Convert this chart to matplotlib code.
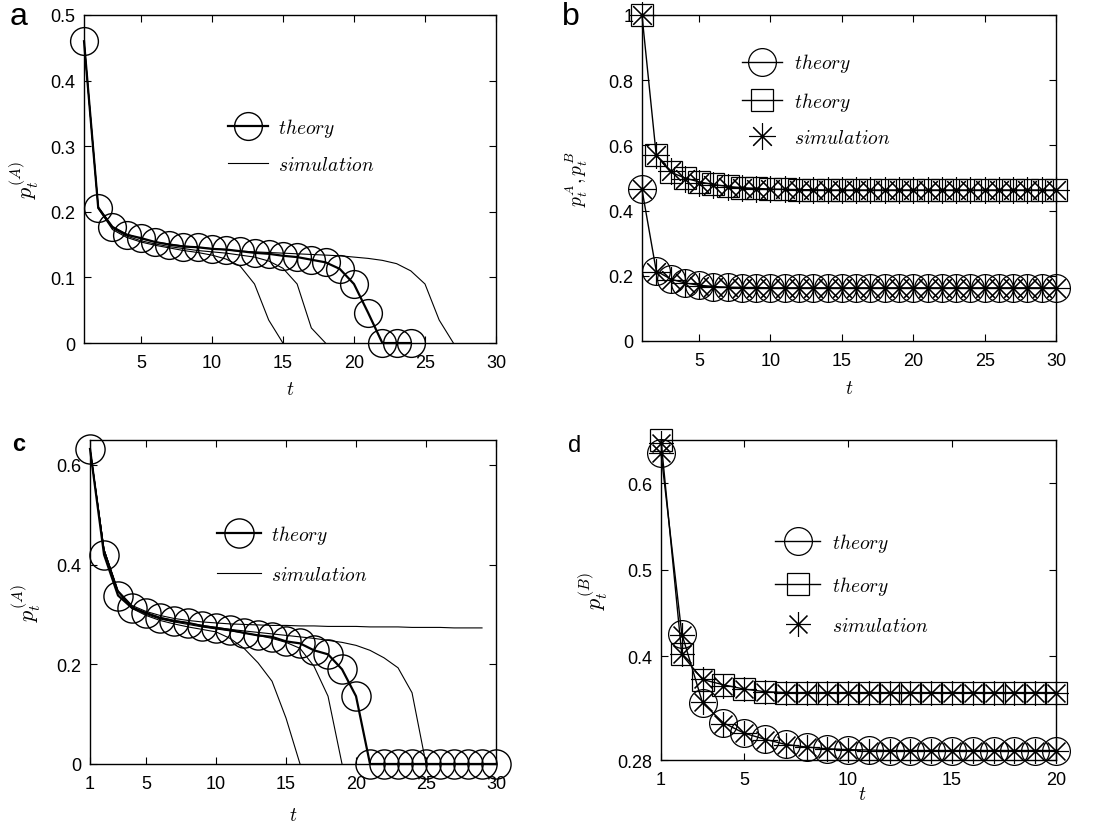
import numpy as np
import matplotlib
matplotlib.use("Agg")
import matplotlib.pyplot as plt

plt.rcParams['font.family'] = ['Liberation Sans', 'DejaVu Sans']
plt.rcParams['mathtext.fontset'] = 'cm'

# ---------------- data ----------------
# panel a
t_a_theory = list(range(1, 25))
a_theory = [0.46, 0.206, 0.177, 0.165, 0.160, 0.154, 0.150, 0.147, 0.146, 0.1435,
            0.1425, 0.140, 0.1375, 0.136, 0.133, 0.131, 0.127, 0.123, 0.113, 0.090,
            0.046, 0.0, 0.0, 0.0]
a_sim1 = [0.46, 0.205, 0.173, 0.161, 0.154, 0.149, 0.145, 0.141, 0.138, 0.134,
          0.128, 0.117, 0.090, 0.035, 0.0]
a_sim2 = [0.46, 0.207, 0.175, 0.163, 0.156, 0.151, 0.147, 0.144, 0.141, 0.139,
          0.137, 0.134, 0.131, 0.125, 0.114, 0.090, 0.023, 0.0]
a_sim3 = [0.46, 0.208, 0.177, 0.166, 0.159, 0.154, 0.151, 0.148, 0.146, 0.144,
          0.142, 0.140, 0.139, 0.138, 0.137, 0.136, 0.135, 0.134, 0.133, 0.131,
          0.129, 0.126, 0.121, 0.110, 0.090, 0.035, 0.0]

# panel b
t_b = list(range(1, 31))
b_theory_A = [0.465, 0.215, 0.19, 0.178, 0.171, 0.167, 0.165, 0.164, 0.164, 0.163,
              0.163, 0.163, 0.163, 0.163, 0.163, 0.163, 0.163, 0.163, 0.163, 0.163,
              0.163, 0.163, 0.163, 0.163, 0.163, 0.163, 0.163, 0.163, 0.163, 0.163]
b_theory_B = [1.0, 0.570, 0.518, 0.500, 0.488, 0.480, 0.474, 0.470, 0.468, 0.466,
              0.465, 0.464, 0.464, 0.463, 0.463, 0.463, 0.463, 0.463, 0.463, 0.463,
              0.463, 0.463, 0.463, 0.463, 0.463, 0.463, 0.463, 0.463, 0.463, 0.463]
b_sim_A = [0.465, 0.213, 0.188, 0.177, 0.170, 0.166, 0.165, 0.164, 0.163, 0.163,
           0.163, 0.163, 0.163, 0.163, 0.163, 0.163, 0.163, 0.163, 0.163, 0.163,
           0.163, 0.163, 0.163, 0.163, 0.163, 0.163, 0.163, 0.163, 0.163, 0.163]
b_sim_B = [1.0, 0.572, 0.520, 0.498, 0.486, 0.478, 0.473, 0.470, 0.467, 0.466,
           0.465, 0.464, 0.463, 0.463, 0.463, 0.463, 0.463, 0.463, 0.463, 0.463,
           0.463, 0.463, 0.463, 0.463, 0.463, 0.463, 0.463, 0.463, 0.463, 0.463]

# panel c
t_c = list(range(1, 31))
c_theory = [0.632, 0.42, 0.338, 0.313, 0.303, 0.293, 0.287, 0.283, 0.277, 0.273,
            0.269, 0.263, 0.258, 0.255, 0.246, 0.242, 0.228, 0.220, 0.190, 0.136,
            0.0, 0.0, 0.0, 0.0, 0.0, 0.0, 0.0, 0.0, 0.0, 0.0]
c_sim1 = [0.632, 0.43, 0.345, 0.312, 0.298, 0.288, 0.281, 0.275, 0.270, 0.265,
          0.252, 0.232, 0.203, 0.166, 0.092, 0.0]
c_sim2 = [0.632, 0.43, 0.346, 0.314, 0.300, 0.291, 0.285, 0.280, 0.275, 0.271,
          0.267, 0.263, 0.258, 0.252, 0.244, 0.232, 0.196, 0.136, 0.0]
c_sim3 = [0.632, 0.43, 0.347, 0.316, 0.303, 0.294, 0.288, 0.283, 0.278, 0.274,
          0.270, 0.267, 0.264, 0.261, 0.258, 0.255, 0.252, 0.248, 0.244, 0.238,
          0.228, 0.213, 0.193, 0.143, 0.0]
c_sim4 = [0.632, 0.43, 0.348, 0.318, 0.306, 0.298, 0.292, 0.288, 0.285, 0.283,
          0.281, 0.280, 0.279, 0.278, 0.278, 0.277, 0.277, 0.276, 0.276, 0.276,
          0.275, 0.275, 0.275, 0.274, 0.274, 0.274, 0.273, 0.273, 0.273]

# panel d
t_d = list(range(1, 21))
d_theory_A = [0.635, 0.426, 0.346, 0.323, 0.311, 0.304, 0.298, 0.295, 0.293, 0.292,
              0.2915, 0.291, 0.291, 0.291, 0.291, 0.291, 0.291, 0.291, 0.291, 0.291]
d_theory_B = [0.650, 0.402, 0.373, 0.367, 0.362, 0.359, 0.358, 0.358, 0.358, 0.358,
              0.358, 0.358, 0.358, 0.358, 0.358, 0.358, 0.358, 0.358, 0.358, 0.358]
d_sim_A = [0.635, 0.424, 0.347, 0.322, 0.311, 0.303, 0.297, 0.295, 0.293, 0.292,
           0.291, 0.291, 0.291, 0.291, 0.291, 0.291, 0.291, 0.291, 0.291, 0.291]
d_sim_B = [0.647, 0.403, 0.374, 0.366, 0.362, 0.359, 0.358, 0.358, 0.358, 0.358,
           0.358, 0.358, 0.358, 0.358, 0.358, 0.358, 0.358, 0.358, 0.358, 0.358]

# ---------------- figure ----------------
fig = plt.figure(figsize=(10.94, 8.28), dpi=100)

pos = {
    'a': [0.0768, 0.5845, 0.3766, 0.3962],
    'b': [0.5868, 0.5870, 0.3785, 0.3937],
    'c': [0.0823, 0.0761, 0.3711, 0.3913],
    'd': [0.6042, 0.0809, 0.3611, 0.3865],
}

STAR = (8, 2, 0)
TICKFS = 13
LEGFS = 14


def style(ax, xlim, ylim, xticks, yticks, yticklabels):
    ax.set_xlim(*xlim)
    ax.set_ylim(*ylim)
    ax.set_xticks(xticks)
    ax.set_yticks(yticks)
    ax.set_yticklabels(yticklabels)
    ax.tick_params(direction='in', top=True, right=True, length=5, width=0.8,
                   labelsize=TICKFS, pad=6)
    ax.tick_params(axis='x', pad=8)
    for s in ax.spines.values():
        s.set_linewidth(1.0)


# ---- panel a ----
ax = fig.add_axes(pos['a'])
for sim in (a_sim1, a_sim2, a_sim3):
    ax.plot(range(1, len(sim) + 1), sim, color='k', lw=0.8)
ax.plot(t_a_theory, a_theory, color='k', lw=1.6, marker='o', ms=20,
        mfc='none', mec='k', mew=1.0, clip_on=False, label=r'$theory$')
ax.plot([], [], color='k', lw=0.8, label=r'$simulation$')
style(ax, (1, 30), (0, 0.5), [5, 10, 15, 20, 25, 30],
      [0, 0.1, 0.2, 0.3, 0.4, 0.5], ['0', '0.1', '0.2', '0.3', '0.4', '0.5'])
ax.set_xlabel(r'$t$', fontsize=14)
ax.xaxis.set_label_coords(0.5, -0.115)
ax.set_ylabel(r'$p_t^{(A)}$', fontsize=16)
ax.yaxis.set_label_coords(-0.105, 0.5)
ax.legend(loc='upper left', bbox_to_anchor=(0.33, 0.715), frameon=False,
          fontsize=LEGFS, handlelength=2.06, handletextpad=0.5, labelspacing=0.85,
          numpoints=1, borderaxespad=0)

# ---- panel b ----
ax = fig.add_axes(pos['b'])
ax.plot(t_b, b_theory_A, color='k', lw=1.0, marker='o', ms=20, mfc='none',
        mec='k', mew=0.9, clip_on=False, label=r'$theory$')
ax.plot(t_b, b_theory_B, color='k', lw=1.0, marker='s', ms=16, mfc='none',
        mec='k', mew=0.9, clip_on=False, label=r'$theory$')
ax.plot(t_b, b_sim_A, ls='none', marker=STAR, ms=19, mec='k', mew=0.8,
        clip_on=False, label=r'$simulation$')
ax.plot(t_b, b_sim_B, ls='none', marker=STAR, ms=19, mec='k', mew=0.8,
        clip_on=False)
style(ax, (1, 30), (0, 1.0), [5, 10, 15, 20, 25, 30],
      [0, 0.2, 0.4, 0.6, 0.8, 1.0], ['0', '0.2', '0.4', '0.6', '0.8', '1'])
ax.set_xlabel(r'$t$', fontsize=14)
ax.xaxis.set_label_coords(0.5, -0.12)
ax.set_ylabel(r'$p_t^A, p_t^B$', fontsize=14)
ax.yaxis.set_label_coords(-0.125, 0.5)
ax.legend(loc='upper left', bbox_to_anchor=(0.222, 0.912), frameon=False,
          fontsize=LEGFS, handlelength=2.06, handletextpad=0.65, labelspacing=0.8,
          numpoints=1, borderaxespad=0)

# ---- panel c ----
ax = fig.add_axes(pos['c'])
for sim in (c_sim1, c_sim2, c_sim3, c_sim4):
    ax.plot(range(1, len(sim) + 1), sim, color='k', lw=0.8)
ax.plot(t_c, c_theory, color='k', lw=1.6, marker='o', ms=21, mfc='none',
        mec='k', mew=1.0, clip_on=False, label=r'$theory$')
ax.plot([], [], color='k', lw=0.8, label=r'$simulation$')
style(ax, (1, 30), (0, 0.65), [1, 5, 10, 15, 20, 25, 30],
      [0, 0.2, 0.4, 0.6], ['0', '0.2', '0.4', '0.6'])
ax.set_xlabel(r'$t$', fontsize=14)
ax.xaxis.set_label_coords(0.5, -0.132)
ax.set_ylabel(r'$p_t^{(A)}$', fontsize=16)
ax.yaxis.set_label_coords(-0.115, 0.5)
ax.legend(loc='upper left', bbox_to_anchor=(0.293, 0.769), frameon=False,
          fontsize=LEGFS, handlelength=2.3, handletextpad=0.5, labelspacing=1.05,
          numpoints=1, borderaxespad=0)

# ---- panel d ----
ax = fig.add_axes(pos['d'])
ax.plot(t_d, d_theory_A, color='k', lw=1.0, marker='o', ms=20, mfc='none',
        mec='k', mew=0.9, clip_on=False, label=r'$theory$')
ax.plot(t_d, d_theory_B, color='k', lw=1.0, marker='s', ms=16, mfc='none',
        mec='k', mew=0.9, clip_on=False, label=r'$theory$')
ax.plot(t_d, d_sim_A, ls='none', marker=STAR, ms=18, mec='k', mew=0.8,
        clip_on=False, label=r'$simulation$')
ax.plot(t_d, d_sim_B, ls='none', marker=STAR, ms=18, mec='k', mew=0.8,
        clip_on=False)
style(ax, (1, 20), (0.28, 0.65), [1, 5, 10, 15, 20],
      [0.28, 0.4, 0.5, 0.6], ['0.28', '0.4', '0.5', '0.6'])
ax.set_xlabel(r'$t$', fontsize=14)
ax.xaxis.set_label_coords(0.51, -0.082)
ax.set_ylabel(r'$p_t^{(B)}$', fontsize=16)
ax.yaxis.set_label_coords(-0.13, 0.53)
ax.legend(loc='upper left', bbox_to_anchor=(0.27, 0.74), frameon=False,
          fontsize=LEGFS, handlelength=2.3, handletextpad=0.6, labelspacing=1.02,
          numpoints=1, borderaxespad=0)

# panel letters
fig.text(10 / 1094, 1 - 25 / 828, 'a', fontsize=23, va='baseline')
fig.text(562 / 1094, 1 - 25 / 828, 'b', fontsize=23, va='baseline')
fig.text(12 / 1094, 1 - 451 / 828, 'c', fontsize=17, fontweight='bold', va='baseline')
fig.text(568 / 1094, 1 - 452 / 828, 'd', fontsize=17, va='baseline')

fig.savefig('out.png', dpi=100)
